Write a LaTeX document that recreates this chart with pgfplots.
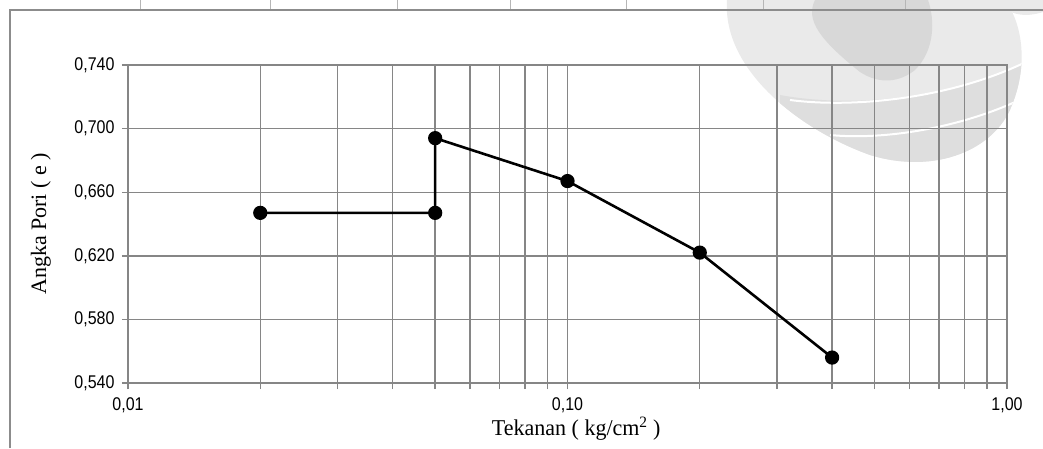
\documentclass[border=0pt]{standalone}
\usepackage{pgfplots}
\pgfplotsset{compat=1.18}
\usepackage{fontspec}
\setmainfont{Liberation Serif}
\newfontfamily\arial{Liberation Sans}
\definecolor{gridgray}{RGB}{134,134,134}
\definecolor{framegray}{RGB}{140,140,140}
\definecolor{wm1}{RGB}{234,234,234}
\definecolor{wm2}{RGB}{216,216,216}
\definecolor{wm3}{RGB}{222,222,222}
\begin{document}
\begin{tikzpicture}[x=1pt,y=1pt]
% watermark (image coordinates, y downwards)
\begin{scope}[yshift=448pt,yscale=-1]
  \path[fill=wm1] (727,0) .. controls (722,70) and (800,130) .. (870,155) .. controls (935,175) and (995,150) .. (1012,105) .. controls (1030,60) and (1020,20) .. (1005,0) -- cycle;
  \begin{scope}
    \clip (727,0) .. controls (722,70) and (800,130) .. (870,155) .. controls (935,175) and (995,150) .. (1012,105) .. controls (1030,60) and (1020,20) .. (1005,0) -- cycle;
    \path[fill=wm3] (780,95) .. controls (850,108) and (950,100) .. (1030,60) -- (1043,200) -- (780,200) -- cycle;
    \draw[white,line width=2pt] (790,100) .. controls (850,108) and (950,100) .. (1030,60);
    \draw[white,line width=2pt] (830,135) .. controls (880,140) and (960,130) .. (1030,95);
  \end{scope}
  \path[fill=wm2] (815,0) .. controls (805,20) and (820,40) .. (860,72) .. controls (880,85) and (900,82) .. (915,70) .. controls (935,50) and (935,20) .. (928,0) -- cycle;
  \path[fill=wm1] (1000,0) .. controls (1005,15) and (1025,18) .. (1043,12) -- (1043,0) -- cycle;
  % outer frame and table lines
  \draw[framegray,line width=2pt] (10,448) -- (10,10) -- (1043,10);
  \foreach \xx in {140,270,397,510,626,763,905}
    \draw[gridgray!60,line width=0.8pt] (\xx,0) -- (\xx,9);
\end{scope}
\begin{axis}[
  at={(128pt,65pt)}, anchor=south west,
  scale only axis, width=879pt, height=318pt,
  xmode=log, xmin=0.01, xmax=1,
  ymin=0.54, ymax=0.74,
  xtick={0.01,0.1,1},
  xticklabels={{0,01},{0,10},{1,00}},
  ytick={0.54,0.58,0.62,0.66,0.70,0.74},
  y tick label style={/pgf/number format/fixed,/pgf/number format/fixed zerofill,/pgf/number format/precision=3,/pgf/number format/use comma,xshift=-4pt},
  /pgf/number format/assume math mode=true,
  ticklabel style={font=\arial\fontsize{16}{16}\selectfont, text=black, yscale=1.15},
  grid=both,
  major grid style={gridgray,line width=1.4pt},
  minor grid style={gridgray,line width=1.4pt},
  axis line style={gridgray,line width=1.4pt},
  tick style={gridgray,line width=1.4pt},
  tick align=outside,
  major tick length=6pt, minor tick length=6pt,
  xtick pos=bottom, ytick pos=left,
  x tick label style={yshift=-4pt},
  xlabel={Tekanan ( kg/cm\textsuperscript{2} )},
  ylabel={Angka Pori ( e )},
  label style={font=\fontsize{20}{20}\selectfont},
  xlabel style={at={(axis description cs:0.51,-0.166)}, anchor=base, xscale=1.1, yscale=1.13},
  ylabel style={at={(axis description cs:-0.099,0.5)}, anchor=center, xscale=1.1, yscale=1.1},
  clip=false,
]
\addplot[black,line width=2.6pt,mark=*,mark size=5.8pt,mark options={fill=black}] coordinates {
(0.02,0.647) (0.05,0.647) (0.05,0.694) (0.1,0.667) (0.2,0.622) (0.4,0.556)
};
\end{axis}
\pgfresetboundingbox
\useasboundingbox (0,0) rectangle (1043,448);
\end{tikzpicture}
\end{document}
